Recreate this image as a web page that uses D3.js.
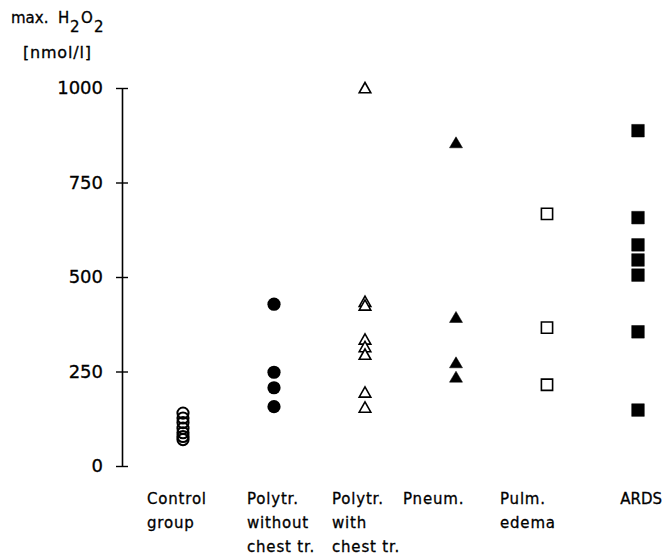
<!DOCTYPE html>
<html lang="en">
<head>
<meta charset="UTF-8">
<script src="https://d3js.org/d3.v7.min.js"></script>
<style>
  body { margin: 0; background: #fff; }
  svg { display: block; font-family: "DejaVu Sans", sans-serif; }
  .lbl { fill: #000; stroke: #000; stroke-width: 0.3px; }
</style>
</head>
<body>
<svg width="664" height="556"></svg>
<script>
// groups along the x axis
const groups = ["control", "polyWithout", "polyWith", "pneum", "pulm", "ards"];
const groupLabels = [
  ["Control", "group"],
  ["Polytr.", "without", "chest tr."],
  ["Polytr.", "with", "chest tr."],
  ["Pneum."],
  ["Pulm.", "edema"],
  ["ARDS"]
];

// max. H2O2 values (nmol/l)
const controlValues     = [140, 127, 115, 100, 88, 78, 70];
const polyWithoutValues = [428, 248, 207, 157];
const polyWithValues    = [1000, 435, 425, 335, 315, 295, 195, 155];
const pneumValues       = [855, 393, 273, 235];
const pulmValues        = [667, 366, 215];
const ardsValues        = [887, 657, 585, 545, 505, 355, 148];

const yTicks = [0, 250, 500, 750, 1000];

const series = [
  { group: "control",     values: controlValues,     shape: "circle",   filled: false },
  { group: "polyWithout", values: polyWithoutValues, shape: "circle",   filled: true },
  { group: "polyWith",    values: polyWithValues,    shape: "triangle", filled: false },
  { group: "pneum",       values: pneumValues,       shape: "triangle", filled: true },
  { group: "pulm",        values: pulmValues,        shape: "square",   filled: false },
  { group: "ards",        values: ardsValues,        shape: "square",   filled: true }
];

const svg = d3.select("svg");

const x = d3.scalePoint().domain(groups).range([183, 638]);
const y = d3.scaleLinear().domain([0, 1000]).range([466, 88]);
const axisX = 122;

// y axis, ticks crossing the line
const ax = svg.append("g")
  .attr("transform", "translate(" + axisX + ",0)")
  .call(d3.axisLeft(y).tickValues(yTicks).tickFormat(d3.format("d"))
    .tickSize(6).tickSizeOuter(0).tickPadding(13));
ax.select(".domain").attr("stroke", "#000").attr("stroke-width", 1.6);
ax.selectAll(".tick line").attr("stroke", "#000").attr("stroke-width", 1.4);
ax.selectAll(".tick").append("line")
  .attr("x1", 0).attr("x2", 6).attr("stroke", "#000").attr("stroke-width", 1.4);
ax.selectAll(".tick text")
  .attr("class", "lbl")
  .style("font-size", "18px")
  .style("font-family", "DejaVu Sans, sans-serif");

// y axis title
const t1 = svg.append("text").attr("class", "lbl").style("font-size", "15px");
t1.append("tspan").attr("x", 11).attr("y", 23).text("max.");
t1.append("tspan").attr("x", 58).attr("y", 23).text("H");
t1.append("tspan").attr("x", 70).attr("y", 32).text("2");
t1.append("tspan").attr("x", 81).attr("y", 23).text("O");
t1.append("tspan").attr("x", 94).attr("y", 32).text("2");
svg.append("text").attr("class", "lbl")
  .attr("x", 23).attr("y", 58)
  .style("font-size", "16px").style("letter-spacing", "0.8px")
  .text("[nmol/l]");

// category labels
const labelShift = [-36, -27, -33, -53, -47, -15];
groups.forEach(function(g, i) {
  const last = i === groups.length - 1;
  const lx = last ? 662 : x(g) + labelShift[i];
  const t = svg.append("text")
    .attr("class", "lbl")
    .attr("text-anchor", last ? "end" : "start")
    .style("font-size", "15px")
    .style("letter-spacing", last ? "0px" : "0.8px");
  groupLabels[i].forEach(function(line, j) {
    t.append("tspan").attr("x", lx).attr("y", 504 + j * 24).text(line);
  });
});

// markers
function markerPath(shape, filled) {
  if (shape === "triangle") return filled ? "M0,-6L6.5,5L-6.5,5Z" : "M0,-5.5L5.8,4.8L-5.8,4.8Z";
  if (shape === "square") return filled ? "M-6.3,-6.3H6.3V6.3H-6.3Z" : "M-5.6,-5.6H5.6V5.6H-5.6Z";
  return null;
}

series.forEach(function(s) {
  const g = svg.append("g");
  if (s.shape === "circle") {
    g.selectAll("circle").data(s.values).enter().append("circle")
      .attr("cx", x(s.group))
      .attr("cy", function(d) { return y(d); })
      .attr("r", s.filled ? 6.6 : 5.6)
      .attr("fill", s.filled ? "#000" : "none")
      .attr("stroke", "#000")
      .attr("stroke-width", s.filled ? 0 : 2);
  } else {
    g.selectAll("path").data(s.values).enter().append("path")
      .attr("d", markerPath(s.shape, s.filled))
      .attr("transform", function(d) { return "translate(" + x(s.group) + "," + y(d) + ")"; })
      .attr("fill", s.filled ? "#000" : "#fff")
      .attr("stroke", "#000")
      .attr("stroke-width", s.filled ? 0.5 : 1.6);
  }
});
</script>
</body>
</html>
